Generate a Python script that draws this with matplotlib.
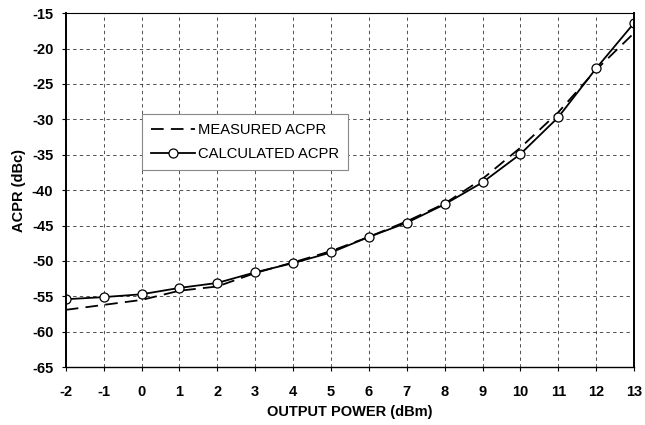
import matplotlib.pyplot as plt
import numpy as np

plt.rcParams["font.family"] = ["Liberation Sans", "DejaVu Sans"]
plt.rcParams["axes.unicode_minus"] = False

# Output power (dBm)
power = [-2, -1, 0, 1, 2, 3, 4, 5, 6, 7, 8, 9, 10, 11, 12, 13]
# ACPR values (dBc)
measured = [-56.9, -56.2, -55.5, -54.2, -53.6, -51.7, -50.2, -48.6,
            -46.6, -44.4, -41.9, -38.4, -34.0, -29.0, -23.0, -17.8]
calculated = [-55.4, -55.1, -54.7, -53.8, -53.1, -51.6, -50.3, -48.8,
              -46.6, -44.6, -42.0, -38.9, -34.9, -29.7, -22.8, -16.4]

fig = plt.figure(figsize=(6.45, 4.25), dpi=100)
ax = fig.add_axes([0.102, 0.136, 0.881, 0.833])

ax.plot(power, measured, color="black", lw=1.3, ls=(0, (7, 4)),
        label="MEASURED ACPR")
ax.plot(power, calculated, color="black", lw=1.3, marker="o", ms=6.5,
        mfc="white", mec="black", mew=0.9, label="CALCULATED ACPR")

ax.set_xlim(-2, 13)
ax.set_ylim(-65, -15)
ax.set_xticks(np.arange(-2, 14, 1))
ax.set_yticks(np.arange(-65, -14, 5))
ax.grid(True, color="black", ls=(0, (4, 4)), lw=0.6, alpha=0.8)

for lab in ax.get_xticklabels() + ax.get_yticklabels():
    lab.set_fontweight("bold")
    lab.set_fontsize(10.5)
ax.tick_params(axis="x", length=3, width=0.8, direction="out", pad=10)
ax.tick_params(axis="y", length=3, width=0.8, direction="out", pad=6)

ax.set_xlabel("OUTPUT POWER (dBm)", fontweight="bold", fontsize=10.5)
ax.set_ylabel("ACPR (dBc)", fontweight="bold", fontsize=10.5, labelpad=4)

for side in ["left", "right"]:
    ax.spines[side].set_linewidth(1.4)
ax.spines["top"].set_linewidth(0.8)
ax.spines["bottom"].set_linewidth(1.0)

leg = ax.legend(loc="upper left", bbox_to_anchor=(0.122, 0.735),
                fontsize=10.6, handlelength=3.0, handletextpad=0.15,
                borderpad=0.6, labelspacing=0.7, fancybox=False,
                framealpha=1, edgecolor="#888888")
leg.get_frame().set_linewidth(0.8)

fig.savefig("out.png", dpi=100)
